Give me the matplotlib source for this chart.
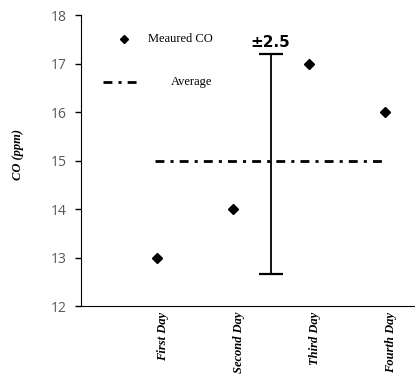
import matplotlib
matplotlib.use("Agg")
import matplotlib.pyplot as plt
from matplotlib.lines import Line2D

days = ["First Day", "Second Day", "Third Day", "Fourth Day"]
co_ppm = [13, 14, 17, 16]
average = 15
# error bar drawn between the days, with its label
err_pos = 2.5
err_center = 14.93
err_half = 2.27
err_label = "\u00b12.5"

fig = plt.figure(figsize=(4.15, 3.78), dpi=100)
ax = fig.add_axes([0.195, 0.19, 0.805, 0.77])

x = list(range(1, len(days) + 1))
ax.plot(x, co_ppm, linestyle="none", marker="D", markersize=5.5, color="black")

dash = (3.2, 2.2, 1.1, 2.2)
avg_line = ax.plot([0.97, 4.0], [average, average], color="black", lw=2)[0]
avg_line.set_dashes(dash)

ax.errorbar([err_pos], [err_center], yerr=[err_half], fmt="none", ecolor="black",
            elinewidth=1.3, capsize=8.5, capthick=1.6)
ax.text(err_pos, err_center + err_half + 0.08, err_label, ha="center", va="bottom",
        fontsize=11, fontweight="bold", family="DejaVu Sans")

ax.set_xlim(0, 4.4)
ax.set_ylim(12, 18)
ax.set_yticks(range(12, 19))
ax.tick_params(axis="y", direction="out", length=4, width=1, colors="black",
               labelcolor="#595959", labelsize=10, pad=6)
for lbl in ax.get_yticklabels():
    lbl.set_family("Open Sans")
ax.set_xticks(x)
ax.set_xticklabels(days, family="Liberation Serif", style="italic",
                   fontweight="bold", fontsize=9)
ax.tick_params(axis="x", length=0, pad=4)
for lbl in ax.get_xticklabels():
    lbl.set_va("top")
    lbl.set_ha("right")
    lbl.set_rotation_mode("anchor")
    lbl.set_rotation(90)

ax.spines["top"].set_visible(False)
ax.spines["right"].set_visible(False)

ax.set_ylabel("CO (ppm)", family="Liberation Serif", style="italic",
              fontweight="bold", fontsize=9, labelpad=18)
ax.yaxis.set_label_coords(-0.17, 0.52)

# legend entries placed by hand
tr = ax.transAxes
ax.add_line(Line2D([0.129], [0.917], transform=tr, marker="D", markersize=4.5,
                   color="black", linestyle="none"))
ax.text(0.2, 0.917, "Meaured CO", transform=tr, va="center", ha="left",
        family="Liberation Serif", fontsize=9)
leg_line = Line2D([0.066, 0.177], [0.77, 0.77], transform=tr, color="black", lw=2)
leg_line.set_dashes(dash)
ax.add_line(leg_line)
ax.text(0.27, 0.77, "Average", transform=tr, va="center", ha="left",
        family="Liberation Serif", fontsize=9)

fig.savefig("out.png", dpi=100)
